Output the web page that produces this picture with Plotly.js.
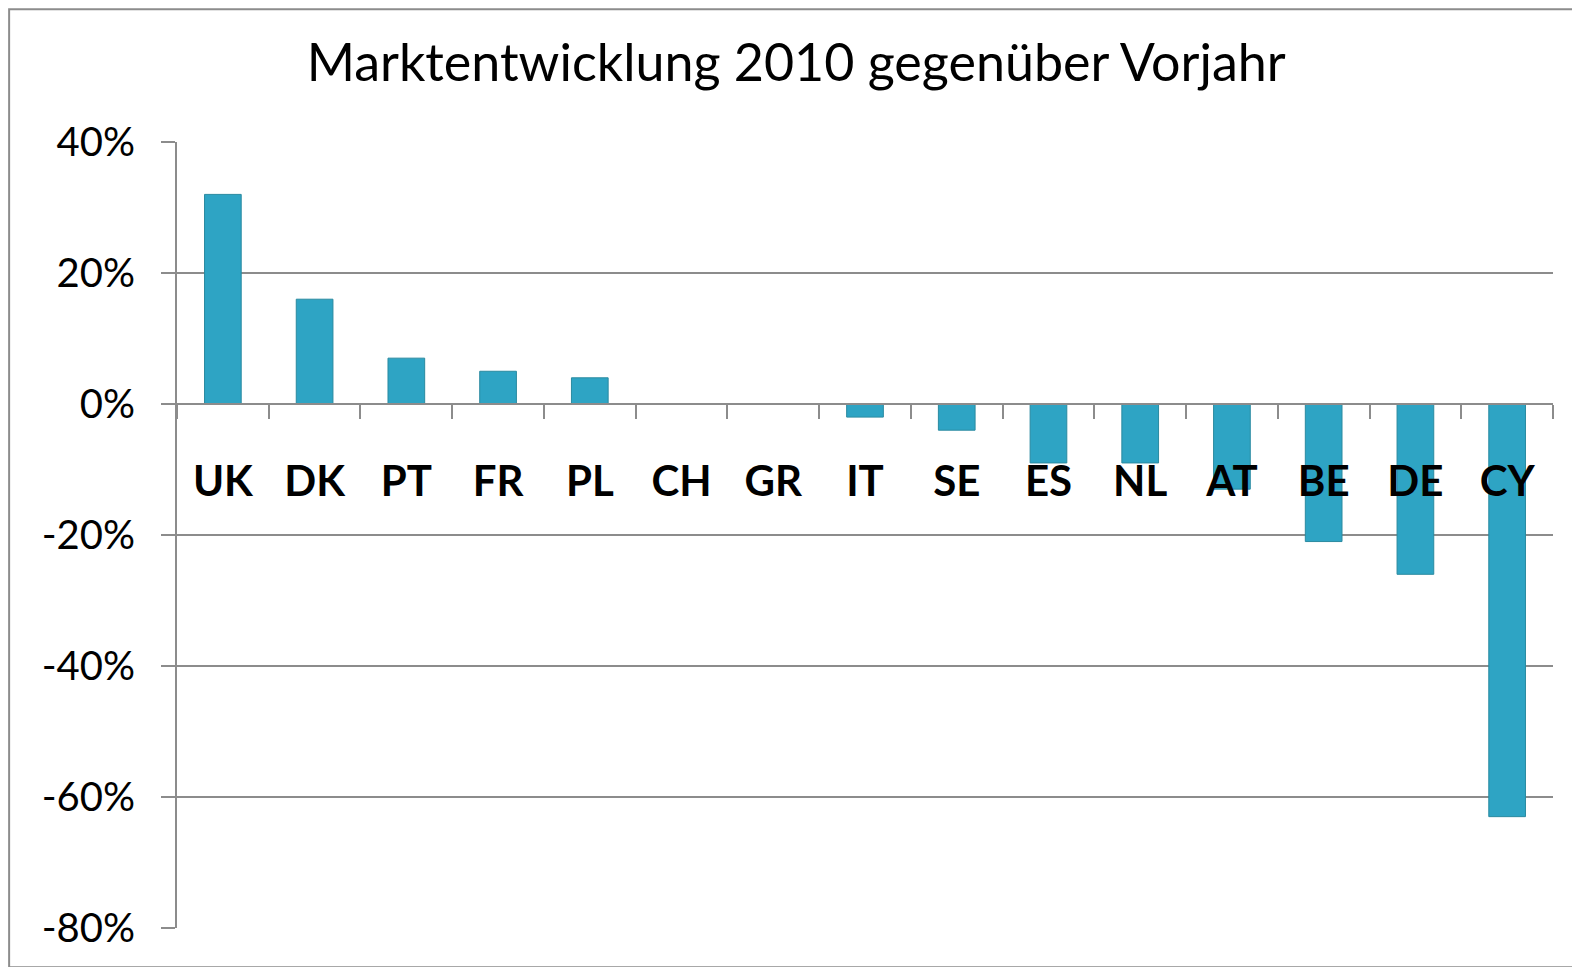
<!DOCTYPE html>
<html>
<head>
<meta charset="utf-8">
<script src="https://cdn.plot.ly/plotly-3.0.1.min.js"></script>
<style>html,body{margin:0;padding:0;background:#fff;}#chart{width:1572px;height:967px;}</style>
</head>
<body>
<div id="chart"></div>
<script>
const countries = ["UK","DK","PT","FR","PL","CH","GR","IT","SE","ES","NL","AT","BE","DE","CY"];
const change2010 = [32, 16, 7, 5, 4, 0, 0, -2, -4, -9, -9, -13, -21, -26, -63];
const yTicks = [40, 20, 0, -20, -40, -60, -80];
const yTickLabels = ["40%", "20%", "0%", "-20%", "-40%", "-60%", "-80%"];

const trace = {
  type: 'bar',
  x: countries,
  y: change2010,
  width: 0.4,
  marker: {color: '#2ea4c4', line: {color: '#2a8aa0', width: 1}},
  hoverinfo: 'x+y'
};

const layout = {
  width: 1572, height: 967,
  margin: {l: 177, r: 19, t: 142, b: 39},
  paper_bgcolor: '#fff', plot_bgcolor: '#fff',
  font: {family: 'Lato, "Open Sans", sans-serif', color: '#000'},
  title: {text: 'Marktentwicklung 2010 gegenüber Vorjahr', font: {size: 52, color: '#000'},
          x: 0.45, xanchor: 'center', y: 0.935, yanchor: 'middle', xref: 'paper', yref: 'container'},
  showlegend: false,
  bargap: 0.6,
  xaxis: {
    type: 'category', range: [-0.5, 14.5],
    anchor: 'free', position: 2/3,
    showline: true, linecolor: '#8c8c8c', linewidth: 2,
    ticks: 'outside', tickson: 'boundaries', ticklen: 14, tickcolor: '#8c8c8c', tickwidth: 2,
    showgrid: false, zeroline: false,
    tickfont: {size: 42, family: 'Lato, "Open Sans", sans-serif', weight: 'bold', color: '#000'},
    ticklabelstandoff: 41,
    layer: 'above traces'
  },
  yaxis: {
    range: [-80, 40], tickmode: 'array', tickvals: yTicks, ticktext: yTickLabels,
    showline: true, linecolor: '#8c8c8c', linewidth: 2,
    ticks: 'outside', ticklen: 14, tickcolor: '#8c8c8c', tickwidth: 2,
    showgrid: true, gridcolor: '#8c8c8c', gridwidth: 2,
    zeroline: false,
    tickfont: {size: 40, color: '#000'},
    ticklabelstandoff: 18
  },
  shapes: [
    {type: 'rect', xref: 'paper', yref: 'paper', x0: -0.122, x1: 1.03, y0: -0.05, y1: 1.169,
     line: {color: '#8c8c8c', width: 2}, fillcolor: 'rgba(0,0,0,0)', layer: 'below'}
  ]
};

Plotly.newPlot('chart', [trace], layout, {displayModeBar: false, staticPlot: true});
</script>
</body>
</html>
